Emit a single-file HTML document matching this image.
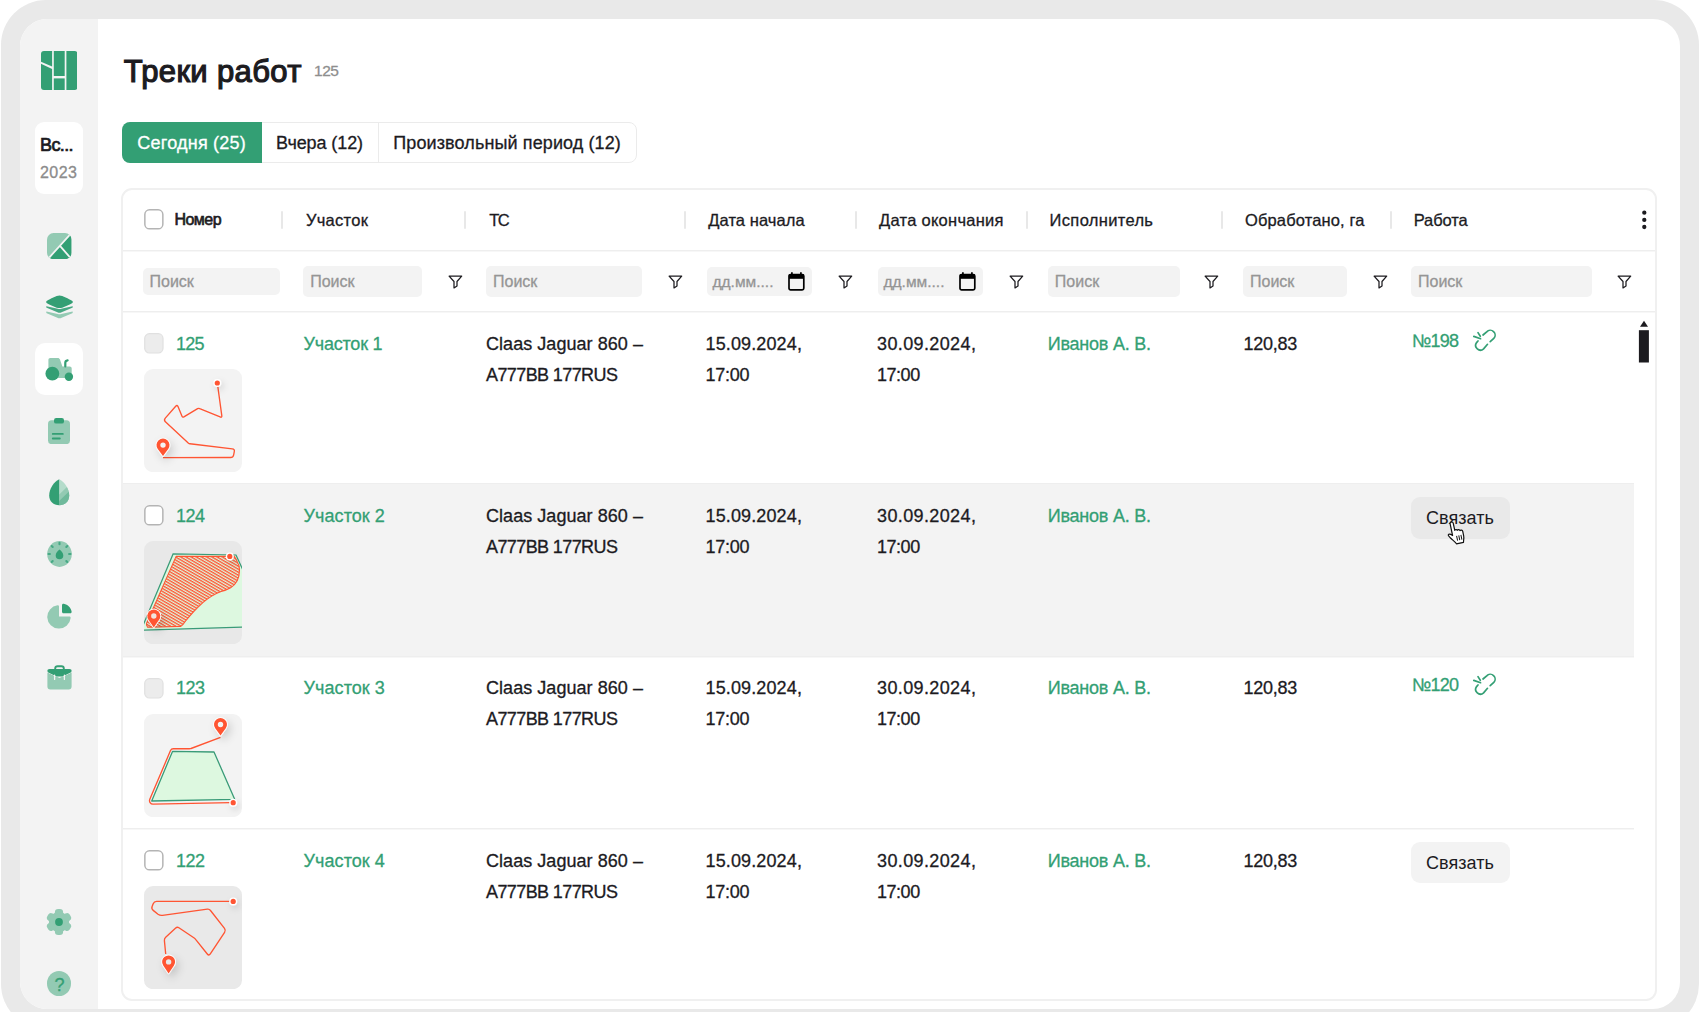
<!DOCTYPE html>
<html lang="ru">
<head>
<meta charset="utf-8">
<title>Треки работ</title>
<style>
*{box-sizing:border-box;margin:0;padding:0}
html,body{width:1699px;height:1012px;overflow:hidden;background:#fff}
body{font-family:"Liberation Sans",Arial,sans-serif;color:#1c1b1f;position:relative}
.abs{position:absolute}
.frame{position:absolute;left:1px;top:0;width:1698px;height:1029px;background:#e9e9e9;border-radius:45px}
.panel{position:absolute;left:20px;top:19px;width:1660px;height:990px;background:#fff;border-radius:27px;overflow:hidden}
.side{position:absolute;left:0;top:0;width:78px;height:990px;background:#f3f3f3}
.t{position:absolute;white-space:pre;line-height:1;-webkit-text-stroke:.3px currentColor}
/* all coordinates below are page coordinates; .page is offset to cancel panel offset */
.page{position:absolute;left:-20px;top:-19px;width:1699px;height:1012px}
.year{position:absolute;left:34.600px;top:122px;width:48.600px;height:72px;background:#fff;border-radius:9px}
.active{position:absolute;left:34.600px;top:343px;width:48.600px;height:52px;background:#fff;border-radius:10px}
.tabs{position:absolute;left:122px;top:122px;width:515px;height:41px;border:1.500px solid #ebebeb;border-radius:8px;background:#fff}
.tab-on{position:absolute;left:122px;top:122px;width:140px;height:41px;background:#339f74;border-radius:8px 0 0 8px}
.tabdiv{position:absolute;left:377.500px;top:123px;width:1.500px;height:39px;background:#ebebeb}
.card{position:absolute;left:121px;top:188px;width:1536px;height:813px;border:2px solid #f0f0f0;border-radius:11px;background:#fff;overflow:hidden}
.hl{position:absolute;height:2px;background:linear-gradient(#eee 50%,#f7f7f7 50%)}
.sep{position:absolute;top:211px;width:2px;height:17.5px;background:#e8e8e8;border-radius:1px}
.inp{position:absolute;background:#f3f3f3;border-radius:5px}
.row2{position:absolute;left:123px;top:484px;width:1511px;height:172.400px;background:#f3f3f3}
.btn{position:absolute;left:1411.300px;width:98.900px;height:41.700px;border-radius:9px;background:#efefef}
</style>
</head>
<body>
<div class="frame"></div>
<div class="panel"><div class="page">
<div class="side" style="left:20px;top:19px"></div>
<!-- logo -->
<svg class="abs" style="left:40.8px;top:51px" width="36.6" height="39" viewBox="0 0 36.6 39">
<g fill="#339f74">
<path d="M3 0H11.1V15.4L0 10.7V3A3 3 0 0 1 3 0Z"/>
<path d="M0 12.7L11.1 17.9V39H3A3 3 0 0 1 0 36Z"/>
<rect x="12.8" y="0" width="10.9" height="25"/>
<rect x="12.8" y="27.4" width="10.9" height="11.6"/>
<path d="M25.4 0H33.6A3 3 0 0 1 36.6 3V36A3 3 0 0 1 33.6 39H25.4Z"/>
</g></svg>
<div class="year"></div>
<!-- fields icon -->
<svg class="abs" style="left:47px;top:232.5px" width="24.5" height="26.2" viewBox="0 0 24.5 26.2">
<rect width="24.5" height="26.2" rx="6.5" fill="#93cab3"/>
<clipPath id="c1"><rect width="24.5" height="26.2" rx="6.5"/></clipPath>
<g clip-path="url(#c1)"><path d="M24.5 0V26.2H0L12.5 13Z" fill="#339f74"/><path d="M24.5 0L2 24.8M13.2 13.2L24 25.5" stroke="#f3f3f3" stroke-width="1.8" fill="none"/></g>
</svg>
<!-- layers icon -->
<svg class="abs" style="left:45.5px;top:295px" width="27" height="24" viewBox="0 0 27 24">
<defs><path id="cres" d="M.5 11.2L11.8 13.7Q13.5 14.100 15.200 13.700L26.500 11.200Q27.200 12 26.300 12.800L15.600 17.300Q13.500 18.300 11.400 17.300L.7 12.800Q-.2 12 .5 11.200Z"/></defs>
<use href="#cres" fill="#47a883"/><use href="#cres" transform="translate(0 5.400)" fill="#93cab3"/>
<path d="M13.500 .6C16.500 .6 22.900 4 26 5.800C27.100 6.400 27.100 7.600 26 8.200C22.900 10 16.500 13.100 13.500 13.100S4.100 10 1 8.200C-.1 7.600 -.1 6.400 1 5.800C4.100 4 10.500 .6 13.500 .6Z" fill="#339f74"/>
</svg>
<div class="active"></div>
<!-- tractor icon -->
<svg class="abs" style="left:44.500px;top:356.500px" width="29" height="25" viewBox="0 0 29 25">
<path d="M5.400 .9H12.700C13.900 .9 14.600 1.500 15 2.600L17.400 9.400H24.600C25.900 9.400 26.700 10.200 26.700 11.500V21H3.400V2.900C3.400 1.600 4.100 .9 5.400 .9Z" fill="#93cab3"/>
<path d="M20.300 9.400V5.700C20.300 4.300 21.100 3.500 22.600 3.300" stroke="#339f74" stroke-width="2.200" fill="none" stroke-linecap="round"/>
<circle cx="7.350" cy="16.650" r="6.900" fill="#339f74"/>
<circle cx="23.900" cy="19.700" r="4.200" fill="#339f74"/>
</svg>
<!-- clipboard -->
<svg class="abs" style="left:48px;top:417.500px" width="22" height="26.500" viewBox="0 0 22 26.500">
<rect x="0" y="2.300" width="22" height="23.800" rx="3.500" fill="#93cab3"/>
<rect x="6" y="0" width="10" height="5.600" rx="2.200" fill="#339f74"/>
<path d="M4.800 15.900H14.800M4.800 20.500H11.800" stroke="#339f74" stroke-width="1.900" stroke-linecap="round"/>
</svg>
<!-- leaf/drop -->
<svg class="abs" style="left:49px;top:479px" width="20.500" height="26.500" viewBox="0 0 20.500 26.500">
<clipPath id="c2"><path d="M10.200 .3C15.800 2.800 20.200 10.200 20.200 16.400C20.200 22.200 16 26.200 10.200 26.200Z"/></clipPath>
<g clip-path="url(#c2)"><rect width="21" height="27" fill="#b4dccb"/><path d="M10.200 15.500L22 4V30H10.200Z" fill="#93cab3"/><path d="M10.200 22L22 10.500V30H10.200Z" fill="#6fb99b"/></g>
<path d="M10.200 .3C4.600 2.800 .2 10.200 .2 16.400C.2 22.200 4.400 26.200 10.200 26.200Z" fill="#339f74"/>
</svg>
<!-- gauge -->
<svg class="abs" style="left:46.500px;top:541px" width="25" height="26" viewBox="0 0 25 26">
<ellipse cx="12.500" cy="13" rx="12.300" ry="12.900" fill="#93cab3"/>
<g stroke="#46a985" stroke-width="2.100" stroke-linecap="round">
<path d="M12.500 1.800V3.200M1.500 13H2.900M22.100 13H23.500M4.700 5L5.700 6M20.300 5L19.300 6M4.700 21L5.700 20M20.300 21L19.300 20"/></g>
<path d="M12.500 8.600C14.600 10.100 16.300 12.500 16.300 14.400A3.800 3.800 0 0 1 8.700 14.400C8.700 12.500 10.400 10.100 12.500 8.600Z" fill="#339f74"/>
</svg>
<!-- pie -->
<svg class="abs" style="left:46.500px;top:603px" width="25.500" height="26" viewBox="0 0 25.500 26">
<path d="M10.500 2.300C11.400 2.100 12 2.700 12 3.600V13.500H22.200C23.200 13.500 23.800 14.200 23.600 15.200A11.700 11.700 0 1 1 10.500 2.300Z" fill="#93cab3"/>
<path d="M15 2.100C15 1.100 15.800 .5 16.800 .7C20.900 1.500 23.800 4.400 24.600 8.400C24.800 9.400 24.200 10.200 23.200 10.200H16.500C15.600 10.200 15 9.600 15 8.700Z" fill="#339f74"/>
</svg>
<!-- briefcase -->
<svg class="abs" style="left:46.500px;top:664.500px" width="25.500" height="25" viewBox="0 0 25.500 25">
<path d="M.4 7.500L12.500 13L24.600 7.500V21.600C24.600 23.400 23.500 24.500 21.700 24.500H3.300C1.500 24.500 .4 23.400 .4 21.600Z" fill="#93cab3"/>
<path d="M2.600 3.900H22.400C23.900 3.900 24.700 4.700 24.600 5.900C24.500 6.800 24 7.300 23.200 7.700L15.500 11.500H9.500L1.800 7.700C1 7.300 .5 6.800 .4 5.900C.3 4.700 1.100 3.900 2.600 3.900Z" fill="#339f74" stroke="#f3f3f3" stroke-width=".9" paint-order="stroke"/>
<path d="M8.200 4.500V3.400C8.200 2 9.100 1.200 10.500 1.200H14.500C15.900 1.200 16.800 2 16.800 3.400V4.500" stroke="#339f74" stroke-width="1.900" fill="none"/>
<path d="M7.600 10.200V14.400M17.400 10.200V14.400" stroke="#f3f3f3" stroke-width="1.300" stroke-linecap="round"/>
</svg>
<!-- gear -->
<svg class="abs" style="left:46px;top:908px" width="26" height="28" viewBox="-13 -14 26 28">
<g fill="#93cab3"><circle r="10.100"/>
<g id="tooth"><rect x="-4.100" y="-13" width="8.200" height="8" rx="3.300"/></g>
<use href="#tooth" transform="rotate(60)"/><use href="#tooth" transform="rotate(120)"/><use href="#tooth" transform="rotate(180)"/><use href="#tooth" transform="rotate(240)"/><use href="#tooth" transform="rotate(300)"/></g>
<circle r="3.900" fill="#339f74"/>
</svg>
<!-- help -->
<div class="abs" style="left:46.900px;top:971.200px;width:24.400px;height:25px;border-radius:50%;background:#93cab3"></div>

<span class="t" style="left:40.0px;top:136.2px;font-size:18px;-webkit-text-stroke:0.72px currentColor;letter-spacing:-0.62px">Вс...</span>
<span class="t" style="left:40.0px;top:164.9px;font-size:16px;color:#8c8c8c;letter-spacing:0.46px">2023</span>
<span class="t" style="left:54.5px;top:975.5px;font-size:18px;color:#339f74;letter-spacing:-1.88px">?</span>
<span class="t" style="left:123.7px;top:56.2px;font-size:31px;-webkit-text-stroke:1.19px currentColor;letter-spacing:0.36px">Треки работ</span>
<span class="t" style="left:314.1px;top:62.8px;font-size:15.5px;color:#8e8e8e;letter-spacing:-0.51px">125</span>
<div class="tabs"></div><div class="tab-on"></div><div class="tabdiv"></div>
<span class="t" style="left:137.3px;top:134.2px;font-size:18px;color:#fff;letter-spacing:0.23px">Сегодня (25)</span>
<span class="t" style="left:276.1px;top:134.2px;font-size:18px;letter-spacing:-0.09px">Вчера (12)</span>
<span class="t" style="left:393.3px;top:134.2px;font-size:18px;letter-spacing:0.11px">Произвольный период (12)</span>
<div class="card"></div>
<div class="row2"></div>
<div class="hl" style="left:123px;top:250px;width:1532px"></div>
<div class="hl" style="left:123px;top:311px;width:1532px"></div>
<div class="hl" style="left:123px;top:483px;width:1511px;height:1px;background:#eee"></div>
<div class="hl" style="left:123px;top:656px;width:1511px"></div>
<div class="hl" style="left:123px;top:828px;width:1511px"></div>
<svg class="abs" style="left:144.4px;top:209.1px" width="21" height="22" viewBox="0 0 21 22"><rect x=".85" y=".85" width="18" height="19" rx="4.700" fill="#fff" stroke="#b4b4b4" stroke-width="1.500"/></svg>
<span class="t" style="left:174.4px;top:211.7px;font-size:16px;-webkit-text-stroke:0.65px currentColor;letter-spacing:-0.52px">Номер</span>
<span class="t" style="left:305.9px;top:212.0px;font-size:16.5px;letter-spacing:0.29px">Участок</span>
<span class="t" style="left:489.2px;top:212.0px;font-size:16.5px;letter-spacing:-1.50px">ТС</span>
<span class="t" style="left:708.3px;top:212.0px;font-size:16.5px;letter-spacing:0.07px">Дата начала</span>
<span class="t" style="left:879.0px;top:212.0px;font-size:16.5px;letter-spacing:0.27px">Дата окончания</span>
<span class="t" style="left:1049.6px;top:212.0px;font-size:16.5px;letter-spacing:0.33px">Исполнитель</span>
<span class="t" style="left:1245.0px;top:212.0px;font-size:16.5px;letter-spacing:0.13px">Обработано, га</span>
<span class="t" style="left:1413.7px;top:212.0px;font-size:16.5px;letter-spacing:-0.09px">Работа</span>
<div class="sep" style="left:281.2px"></div>
<div class="sep" style="left:464.4px"></div>
<div class="sep" style="left:683.9px"></div>
<div class="sep" style="left:855.0px"></div>
<div class="sep" style="left:1026.1px"></div>
<div class="sep" style="left:1221.0px"></div>
<div class="sep" style="left:1389.8px"></div>
<svg class="abs" style="left:1640px;top:208px" width="9" height="24" viewBox="0 0 9 24"><g fill="#1c1b1f"><circle cx="4.3" cy="4.7" r="2.15"/><circle cx="4.3" cy="11.9" r="2.15"/><circle cx="4.3" cy="19" r="2.15"/></g></svg>
<div class="inp" style="left:143.3px;top:267.5px;width:136.7px;height:27.9px"></div>
<span class="t" style="left:149.5px;top:273.9px;font-size:16px;color:#959595">Поиск</span>
<div class="inp" style="left:303.4px;top:266.3px;width:119.1px;height:30.4px"></div>
<span class="t" style="left:310.2px;top:273.9px;font-size:16px;color:#959595">Поиск</span>
<svg class="abs" style="left:447.8px;top:274.5px" width="15" height="14.5" viewBox="0 0 15 14.5"><path d="M1.1 1.1H13.7L9 6.5V10.9L6 12.9V6.5Z" fill="none" stroke="#1c1b1f" stroke-width="1.25" stroke-linejoin="round"/></svg>
<div class="inp" style="left:486.2px;top:266.3px;width:156.0px;height:30.4px"></div>
<span class="t" style="left:493.0px;top:273.9px;font-size:16px;color:#959595">Поиск</span>
<svg class="abs" style="left:667.6px;top:274.5px" width="15" height="14.5" viewBox="0 0 15 14.5"><path d="M1.1 1.1H13.7L9 6.5V10.9L6 12.9V6.5Z" fill="none" stroke="#1c1b1f" stroke-width="1.25" stroke-linejoin="round"/></svg>
<div class="inp" style="left:1048px;top:266.3px;width:131.5px;height:30.4px"></div>
<span class="t" style="left:1054.8px;top:273.9px;font-size:16px;color:#959595">Поиск</span>
<svg class="abs" style="left:1204.4px;top:274.5px" width="15" height="14.5" viewBox="0 0 15 14.5"><path d="M1.1 1.1H13.7L9 6.5V10.9L6 12.9V6.5Z" fill="none" stroke="#1c1b1f" stroke-width="1.25" stroke-linejoin="round"/></svg>
<div class="inp" style="left:1243.2px;top:266.3px;width:104.2px;height:30.4px"></div>
<span class="t" style="left:1250.0px;top:273.9px;font-size:16px;color:#959595">Поиск</span>
<svg class="abs" style="left:1372.8px;top:274.5px" width="15" height="14.5" viewBox="0 0 15 14.5"><path d="M1.1 1.1H13.7L9 6.5V10.9L6 12.9V6.5Z" fill="none" stroke="#1c1b1f" stroke-width="1.25" stroke-linejoin="round"/></svg>
<div class="inp" style="left:1411.2px;top:266.3px;width:180.6px;height:30.4px"></div>
<span class="t" style="left:1418.0px;top:273.9px;font-size:16px;color:#959595">Поиск</span>
<svg class="abs" style="left:1616.8px;top:274.5px" width="15" height="14.5" viewBox="0 0 15 14.5"><path d="M1.1 1.1H13.7L9 6.5V10.9L6 12.9V6.5Z" fill="none" stroke="#1c1b1f" stroke-width="1.25" stroke-linejoin="round"/></svg>
<div class="inp" style="left:707.3px;top:267.1px;width:104.5px;height:28.5px"></div>
<span class="t" style="left:712.5px;top:273.7px;font-size:15.5px;color:#959595">дд.мм....</span>
<svg class="abs" style="left:787.5999999999999px;top:271.8px" width="17" height="19" viewBox="0 0 17 19"><path d="M3.9 .2V2.600M12.900 .2V2.600" stroke="#000" stroke-width="1.700"/><rect x="1" y="2.500" width="14.800" height="15.400" rx="1.600" fill="none" stroke="#000" stroke-width="1.700"/><rect x="1" y="2.500" width="14.800" height="4.300" fill="#000"/></svg>
<svg class="abs" style="left:838.2px;top:274.5px" width="15" height="14.5" viewBox="0 0 15 14.5"><path d="M1.1 1.1H13.7L9 6.5V10.9L6 12.9V6.5Z" fill="none" stroke="#1c1b1f" stroke-width="1.25" stroke-linejoin="round"/></svg>
<div class="inp" style="left:878.3px;top:267.1px;width:104.5px;height:28.5px"></div>
<span class="t" style="left:883.5px;top:273.7px;font-size:15.5px;color:#959595">дд.мм....</span>
<svg class="abs" style="left:958.5999999999999px;top:271.8px" width="17" height="19" viewBox="0 0 17 19"><path d="M3.9 .2V2.600M12.900 .2V2.600" stroke="#000" stroke-width="1.700"/><rect x="1" y="2.500" width="14.800" height="15.400" rx="1.600" fill="none" stroke="#000" stroke-width="1.700"/><rect x="1" y="2.500" width="14.800" height="4.300" fill="#000"/></svg>
<svg class="abs" style="left:1009.2px;top:274.5px" width="15" height="14.5" viewBox="0 0 15 14.5"><path d="M1.1 1.1H13.7L9 6.5V10.9L6 12.9V6.5Z" fill="none" stroke="#1c1b1f" stroke-width="1.25" stroke-linejoin="round"/></svg>
<svg class="abs" style="left:1638px;top:320px" width="12" height="44" viewBox="0 0 12 44"><path d="M6 .8L10 6.700H2Z" fill="#1c1b1f"/><rect x=".9" y="10.200" width="10" height="32.300" fill="#1c1b1f"/></svg>
<svg class="abs" style="left:144.4px;top:333.0px" width="21" height="22" viewBox="0 0 21 22"><rect x=".7" y=".7" width="18.300" height="19.300" rx="4.700" fill="#ececec" stroke="#e0e0e0" stroke-width="1.200"/></svg>
<span class="t" style="left:175.9px;top:334.6px;font-size:18px;color:#339f74;letter-spacing:-0.65px">125</span>
<span class="t" style="left:303.6px;top:334.6px;font-size:18px;color:#339f74;letter-spacing:-0.22px">Участок 1</span>
<span class="t" style="left:486.0px;top:334.6px;font-size:18px;letter-spacing:0.05px">Claas Jaguar 860 –</span>
<span class="t" style="left:486.0px;top:365.5px;font-size:18px;letter-spacing:-0.60px">A777BB 177RUS</span>
<span class="t" style="left:705.5px;top:334.6px;font-size:18px;letter-spacing:0.13px">15.09.2024,</span>
<span class="t" style="left:705.5px;top:365.5px;font-size:18px;letter-spacing:-0.28px">17:00</span>
<span class="t" style="left:877.1px;top:334.6px;font-size:18px;letter-spacing:0.37px">30.09.2024,</span>
<span class="t" style="left:877.1px;top:365.5px;font-size:18px;letter-spacing:-0.50px">17:00</span>
<span class="t" style="left:1047.7px;top:334.6px;font-size:18px;color:#339f74;letter-spacing:-0.22px">Иванов А. В.</span>
<span class="t" style="left:1243.5px;top:334.6px;font-size:18px;letter-spacing:-0.24px">120,83</span>
<span class="t" style="left:1411.9px;top:331.6px;font-size:18px;color:#339f74;letter-spacing:-0.73px">№198</span>
<svg class="abs" style="left:1472px;top:328.7px" width="25" height="24" viewBox="0 0 25 24"><g fill="none" stroke="#339f74" stroke-width="1.700" stroke-linecap="round"><path d="M11 6L14.700 2.800A4.700 4.700 0 0 1 21.800 9.400L18.200 12.600"/><path d="M15.500 15.300L11.600 19.800A4.700 4.700 0 0 1 4.600 13.600L6 12"/><path d="M1.800 7.400L8.600 9.700M6 3.600L8.300 7.300"/></g></svg>
<svg width="0" height="0" style="position:absolute"><defs><filter id="sh" x="-100%" y="-100%" width="300%" height="300%"><feDropShadow dx="3" dy="4" stdDeviation="4" flood-color="#000" flood-opacity=".16"/></filter><filter id="sh2" x="-200%" y="-200%" width="500%" height="500%"><feDropShadow dx="2" dy="3" stdDeviation="3" flood-color="#000" flood-opacity=".13"/></filter><pattern id="hat" width="2.6" height="2.6" patternUnits="userSpaceOnUse" patternTransform="rotate(30)"><rect width="2.6" height="1.35" fill="#ff5533"/></pattern></defs></svg>
<svg class="abs" style="left:144.2px;top:368.9px" width="98" height="103.2" viewBox="0 0 98 103.2"><clipPath id="tc0"><rect width="98" height="103.2" rx="9"/></clipPath><g clip-path="url(#tc0)"><rect width="98" height="103.2" fill="#f3f3f3"/><path d="M73.6 16.0L77.8 46.6Q78.1 48.8 76.1 48.0L55.7 39.6Q54.6 39.1 53.6 39.7L39.9 47.8Q38.6 48.6 38.0 47.2L34.0 37.6Q33.2 35.6 31.7 37.2L21.3 49.1Q19.6 51.0 21.4 52.7L44.5 74.2Q45.1 74.7 45.9 74.8L88.3 79.9Q90.8 80.2 90.3 82.6L89.6 86.1Q89.1 88.5 86.6 88.5L19.0 88.6" fill="none" stroke="#ff5533" stroke-width="1.35" stroke-linejoin="round"/><circle cx="73.3" cy="14.0" r="4" fill="#fff" filter="url(#sh2)"/><circle cx="73.3" cy="14.0" r="2.6" fill="#ff5533"/><path d="M19.0 87.0L13.78 79.98A6.5 6.5 0 1 1 24.22 79.98Z" fill="#ff5533" stroke="#fff" stroke-width="1.7" paint-order="stroke" stroke-linejoin="round" filter="url(#sh)"/><circle cx="19.0" cy="76.1" r="2.7" fill="#f3f3f3"/></g></svg>
<svg class="abs" style="left:144.4px;top:505.4px" width="21" height="22" viewBox="0 0 21 22"><rect x=".85" y=".85" width="18" height="19" rx="4.700" fill="#fff" stroke="#b4b4b4" stroke-width="1.500"/></svg>
<span class="t" style="left:175.9px;top:506.9px;font-size:18px;color:#339f74;letter-spacing:-0.50px">124</span>
<span class="t" style="left:303.6px;top:506.9px;font-size:18px;color:#339f74;letter-spacing:0.06px">Участок 2</span>
<span class="t" style="left:486.0px;top:506.9px;font-size:18px;letter-spacing:0.05px">Claas Jaguar 860 –</span>
<span class="t" style="left:486.0px;top:537.8px;font-size:18px;letter-spacing:-0.60px">A777BB 177RUS</span>
<span class="t" style="left:705.5px;top:506.9px;font-size:18px;letter-spacing:0.13px">15.09.2024,</span>
<span class="t" style="left:705.5px;top:537.8px;font-size:18px;letter-spacing:-0.28px">17:00</span>
<span class="t" style="left:877.1px;top:506.9px;font-size:18px;letter-spacing:0.37px">30.09.2024,</span>
<span class="t" style="left:877.1px;top:537.8px;font-size:18px;letter-spacing:-0.50px">17:00</span>
<span class="t" style="left:1047.7px;top:506.9px;font-size:18px;color:#339f74;letter-spacing:-0.22px">Иванов А. В.</span>
<div class="btn" style="top:497.0px;background:#e9e9e9"></div>
<span class="t" style="left:1426.0px;top:509.4px;font-size:18px;-webkit-text-stroke:0;letter-spacing:0.06px">Связать</span>
<svg class="abs" style="left:144.2px;top:541.3px" width="98" height="103.2" viewBox="0 0 98 103.2"><clipPath id="tc1"><rect width="98" height="103.2" rx="9"/></clipPath><g clip-path="url(#tc1)"><rect width="98" height="103.2" fill="#e8e8e8"/><path d="M-3 89.2L29.1 13L92 14L101 33.5V86.1Z" fill="#ddf8e0" stroke="#3a9b78" stroke-width="1.25"/><path d="M32.1 15.4L90.2 15.4Q92.5 18.500 93.200 20.700Q95.800 25 95.500 29Q95.500 35 93.200 39.700Q90.500 44.500 86.600 46.800Q82 49.500 77.100 50.400Q72 52.200 67.700 55.100Q63 58 59.400 61.100Q54.500 65.500 49.900 70.500Q45 76 41.600 80Q39 84 36.800 85.400L3.600 86.200Q1.800 84.500 2.600 82.200Z" fill="url(#hat)" stroke="#ff5533" stroke-width="1.1" stroke-linejoin="round"/><circle cx="85.8" cy="15.4" r="4" fill="#fff" filter="url(#sh2)"/><circle cx="85.8" cy="15.4" r="2.6" fill="#ff5533"/><path d="M9.8 86.4L4.46 78.71A6.5 6.5 0 1 1 15.14 78.71Z" fill="#ff5533" stroke="#fff" stroke-width="1.7" paint-order="stroke" stroke-linejoin="round" filter="url(#sh)"/><circle cx="9.8" cy="75.0" r="2.7" fill="#f1e3dc"/></g></svg>
<svg class="abs" style="left:144.4px;top:677.7px" width="21" height="22" viewBox="0 0 21 22"><rect x=".7" y=".7" width="18.300" height="19.300" rx="4.700" fill="#ececec" stroke="#e0e0e0" stroke-width="1.200"/></svg>
<span class="t" style="left:175.9px;top:679.3px;font-size:18px;color:#339f74;letter-spacing:-0.50px">123</span>
<span class="t" style="left:303.6px;top:679.3px;font-size:18px;color:#339f74;letter-spacing:0.06px">Участок 3</span>
<span class="t" style="left:486.0px;top:679.3px;font-size:18px;letter-spacing:0.05px">Claas Jaguar 860 –</span>
<span class="t" style="left:486.0px;top:710.2px;font-size:18px;letter-spacing:-0.60px">A777BB 177RUS</span>
<span class="t" style="left:705.5px;top:679.3px;font-size:18px;letter-spacing:0.13px">15.09.2024,</span>
<span class="t" style="left:705.5px;top:710.2px;font-size:18px;letter-spacing:-0.28px">17:00</span>
<span class="t" style="left:877.1px;top:679.3px;font-size:18px;letter-spacing:0.37px">30.09.2024,</span>
<span class="t" style="left:877.1px;top:710.2px;font-size:18px;letter-spacing:-0.50px">17:00</span>
<span class="t" style="left:1047.7px;top:679.3px;font-size:18px;color:#339f74;letter-spacing:-0.22px">Иванов А. В.</span>
<span class="t" style="left:1243.5px;top:679.3px;font-size:18px;letter-spacing:-0.24px">120,83</span>
<span class="t" style="left:1411.9px;top:676.3px;font-size:18px;color:#339f74;letter-spacing:-0.73px">№120</span>
<svg class="abs" style="left:1472px;top:673.4px" width="25" height="24" viewBox="0 0 25 24"><g fill="none" stroke="#339f74" stroke-width="1.700" stroke-linecap="round"><path d="M11 6L14.700 2.800A4.700 4.700 0 0 1 21.800 9.400L18.200 12.600"/><path d="M15.500 15.300L11.600 19.800A4.700 4.700 0 0 1 4.600 13.600L6 12"/><path d="M1.800 7.400L8.600 9.700M6 3.600L8.300 7.300"/></g></svg>
<svg class="abs" style="left:144.2px;top:713.6px" width="98" height="103.2" viewBox="0 0 98 103.2"><clipPath id="tc2"><rect width="98" height="103.2" rx="9"/></clipPath><g clip-path="url(#tc2)"><rect width="98" height="103.2" fill="#f3f3f3"/><path d="M28.5 37.4L70 38L90.8 85.4L7.7 87Z" fill="#ddf8e0" stroke="#3a9b78" stroke-width="1.3" stroke-linejoin="round"/><path d="M76.5 23.4L47.0 34.5Q46.3 34.8 45.5 34.8L29.3 34.8Q27.3 34.8 26.5 36.6L5.8 85.3Q5.1 87.0 6.1 88.6L6.1 88.6Q7.1 90.2 9.0 90.2L86.6 88.7" fill="none" stroke="#ff5533" stroke-width="1.35" stroke-linejoin="round"/><circle cx="89.2" cy="88.7" r="4" fill="#fff" filter="url(#sh2)"/><circle cx="89.2" cy="88.7" r="2.6" fill="#ff5533"/><path d="M76.5 21.6L71.23 14.31A6.5 6.5 0 1 1 81.77 14.31Z" fill="#ff5533" stroke="#fff" stroke-width="1.7" paint-order="stroke" stroke-linejoin="round" filter="url(#sh)"/><circle cx="76.5" cy="10.5" r="2.7" fill="#f3f3f3"/></g></svg>
<svg class="abs" style="left:144.4px;top:850.0px" width="21" height="22" viewBox="0 0 21 22"><rect x=".85" y=".85" width="18" height="19" rx="4.700" fill="#fff" stroke="#b4b4b4" stroke-width="1.500"/></svg>
<span class="t" style="left:175.9px;top:851.6px;font-size:18px;color:#339f74;letter-spacing:-0.50px">122</span>
<span class="t" style="left:303.6px;top:851.6px;font-size:18px;color:#339f74;letter-spacing:0.06px">Участок 4</span>
<span class="t" style="left:486.0px;top:851.6px;font-size:18px;letter-spacing:0.05px">Claas Jaguar 860 –</span>
<span class="t" style="left:486.0px;top:882.5px;font-size:18px;letter-spacing:-0.60px">A777BB 177RUS</span>
<span class="t" style="left:705.5px;top:851.6px;font-size:18px;letter-spacing:0.13px">15.09.2024,</span>
<span class="t" style="left:705.5px;top:882.5px;font-size:18px;letter-spacing:-0.28px">17:00</span>
<span class="t" style="left:877.1px;top:851.6px;font-size:18px;letter-spacing:0.37px">30.09.2024,</span>
<span class="t" style="left:877.1px;top:882.5px;font-size:18px;letter-spacing:-0.50px">17:00</span>
<span class="t" style="left:1047.7px;top:851.6px;font-size:18px;color:#339f74;letter-spacing:-0.22px">Иванов А. В.</span>
<span class="t" style="left:1243.5px;top:851.6px;font-size:18px;letter-spacing:-0.24px">120,83</span>
<div class="btn" style="top:841.7px;background:#f3f3f3"></div>
<span class="t" style="left:1426.0px;top:854.1px;font-size:18px;-webkit-text-stroke:0;letter-spacing:0.06px">Связать</span>
<svg class="abs" style="left:144.2px;top:885.9px" width="98" height="103.2" viewBox="0 0 98 103.2"><clipPath id="tc3"><rect width="98" height="103.2" rx="9"/></clipPath><g clip-path="url(#tc3)"><rect width="98" height="103.2" fill="#e9e9e9"/><path d="M86.6 15.4L12.6 15.4Q10.1 15.4 9.2 17.7L8.1 20.6Q7.2 22.9 9.2 24.4L14.0 28.2Q16.0 29.7 18.5 29.4L63.3 23.2Q65.3 22.9 66.5 24.5L80.5 42.3Q82.0 44.3 80.6 46.4L66.3 67.9Q64.9 70.0 63.3 68.0L51.6 53.4Q51.0 52.6 50.2 52.0L34.9 41.8Q33.2 40.7 31.7 42.1L21.7 51.2Q20.2 52.6 20.4 54.6L21.7 68.0" fill="none" stroke="#ff5533" stroke-width="1.35" stroke-linejoin="round"/><circle cx="89.2" cy="15.4" r="4" fill="#fff" filter="url(#sh2)"/><circle cx="89.2" cy="15.4" r="2.6" fill="#ff5533"/><path d="M24.6 87.4L19.24 79.57A6.5 6.5 0 1 1 29.96 79.57Z" fill="#ff5533" stroke="#fff" stroke-width="1.7" paint-order="stroke" stroke-linejoin="round" filter="url(#sh)"/><circle cx="24.6" cy="75.9" r="2.7" fill="#e9e9e9"/></g></svg>
<svg class="abs" style="left:1443px;top:519px" width="26" height="28" viewBox="0 0 26 28">
<g transform="translate(3.600 2.400) rotate(-12 8 11) scale(1.1)">
<path d="M4.900 1.400C4.900 -.2 7.800 -.2 7.800 1.400V8.300C8.100 7.300 9.900 7.500 10 8.700C10.500 7.900 12.400 8.200 12.400 9.500C13 8.900 14.700 9.300 14.700 10.700V14.500C14.700 17 13.700 18.500 13.300 20.500H6.800C6.200 18.500 4 16.500 2.600 14.200C1.400 12.400 .6 11.600 1.200 10.900C2 10.100 3.400 10.900 4.900 12.400Z" fill="#fff" stroke="#111" stroke-width="1.100" stroke-linejoin="round"/>
<path d="M8.400 13.400V17.800M10.400 13.400V17.800M12.400 13.400V17.800" stroke="#111" stroke-width=".9"/>
</g></svg>

</div></div>
</body>
</html>
